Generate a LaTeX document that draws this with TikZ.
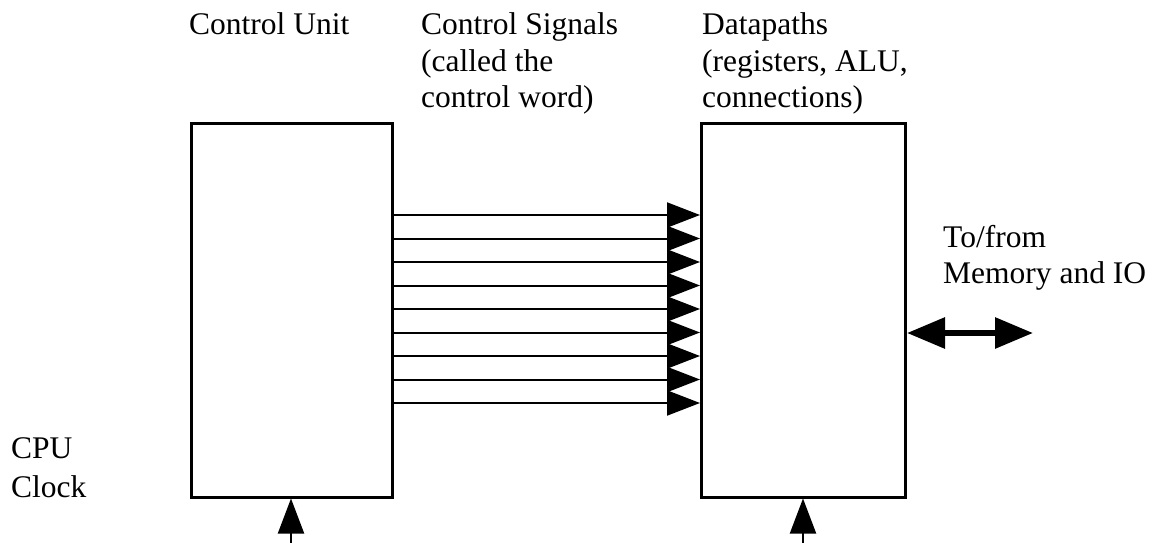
\documentclass[tikz,border=0pt]{standalone}
\usepackage{fontspec}
\setmainfont{Liberation Serif}
\usetikzlibrary{arrows.meta}
\begin{document}
\begin{tikzpicture}[x=1pt,y=-1pt,
  lbl/.style={anchor=base west,inner sep=0pt,font=\fontsize{31.5}{36}\selectfont},
  unitbox/.style={draw,line width=3pt,inner sep=0pt},
  sig/.style={line width=2pt,-{Triangle[length=33pt,width=25pt]}},
  clk/.style={line width=2pt,-{Triangle[length=35pt,width=26pt]}},
  bus/.style={line width=6pt,{Triangle[length=38pt,width=30pt]}-{Triangle[length=38pt,width=30pt]}}]
\useasboundingbox (0,0) rectangle (1159,543);
% boxes
\node[unitbox,minimum width=201pt,minimum height=374pt] (cu) at (291.5,310) {};
\node[unitbox,minimum width=204pt,minimum height=374pt] (dp) at (803.5,310) {};
% labels
\node[lbl] (t1) at (189,35) {Control Unit};
\node[lbl] (t2a) at (421,35) {Control Signals};
\node[lbl] (t2b) at (421,71.5) {(called the};
\node[lbl] (t2c) at (421,107.5) {control word)};
\node[lbl] (t3a) at (702,35) {Datapaths};
\node[lbl] (t3b) at (702,71.5) {(registers, ALU,};
\node[lbl] (t3c) at (702,107.5) {connections)};
\node[lbl] (t4a) at (943,247) {To/from};
\node[lbl] (t4b) at (943,283) {Memory and IO};
\node[lbl] (t5a) at (11,458) {CPU};
\node[lbl] (t5b) at (11,497) {Clock};
% control signals
\foreach \yy in {215,238.5,262,285.5,309,332.5,356,379.5,403}
  \draw[sig] (cu.east |- 0,\yy) -- (dp.west |- 0,\yy);
% memory bus
\coordinate (mem) at (1033,333);
\draw[bus] (dp.east |- mem) -- (mem);
% clock inputs
\coordinate (clkA) at (291,543);
\coordinate (clkB) at (803,543);
\draw[clk] (clkA) -- (cu.south -| clkA);
\draw[clk] (clkB) -- (dp.south -| clkB);
\end{tikzpicture}
\end{document}
